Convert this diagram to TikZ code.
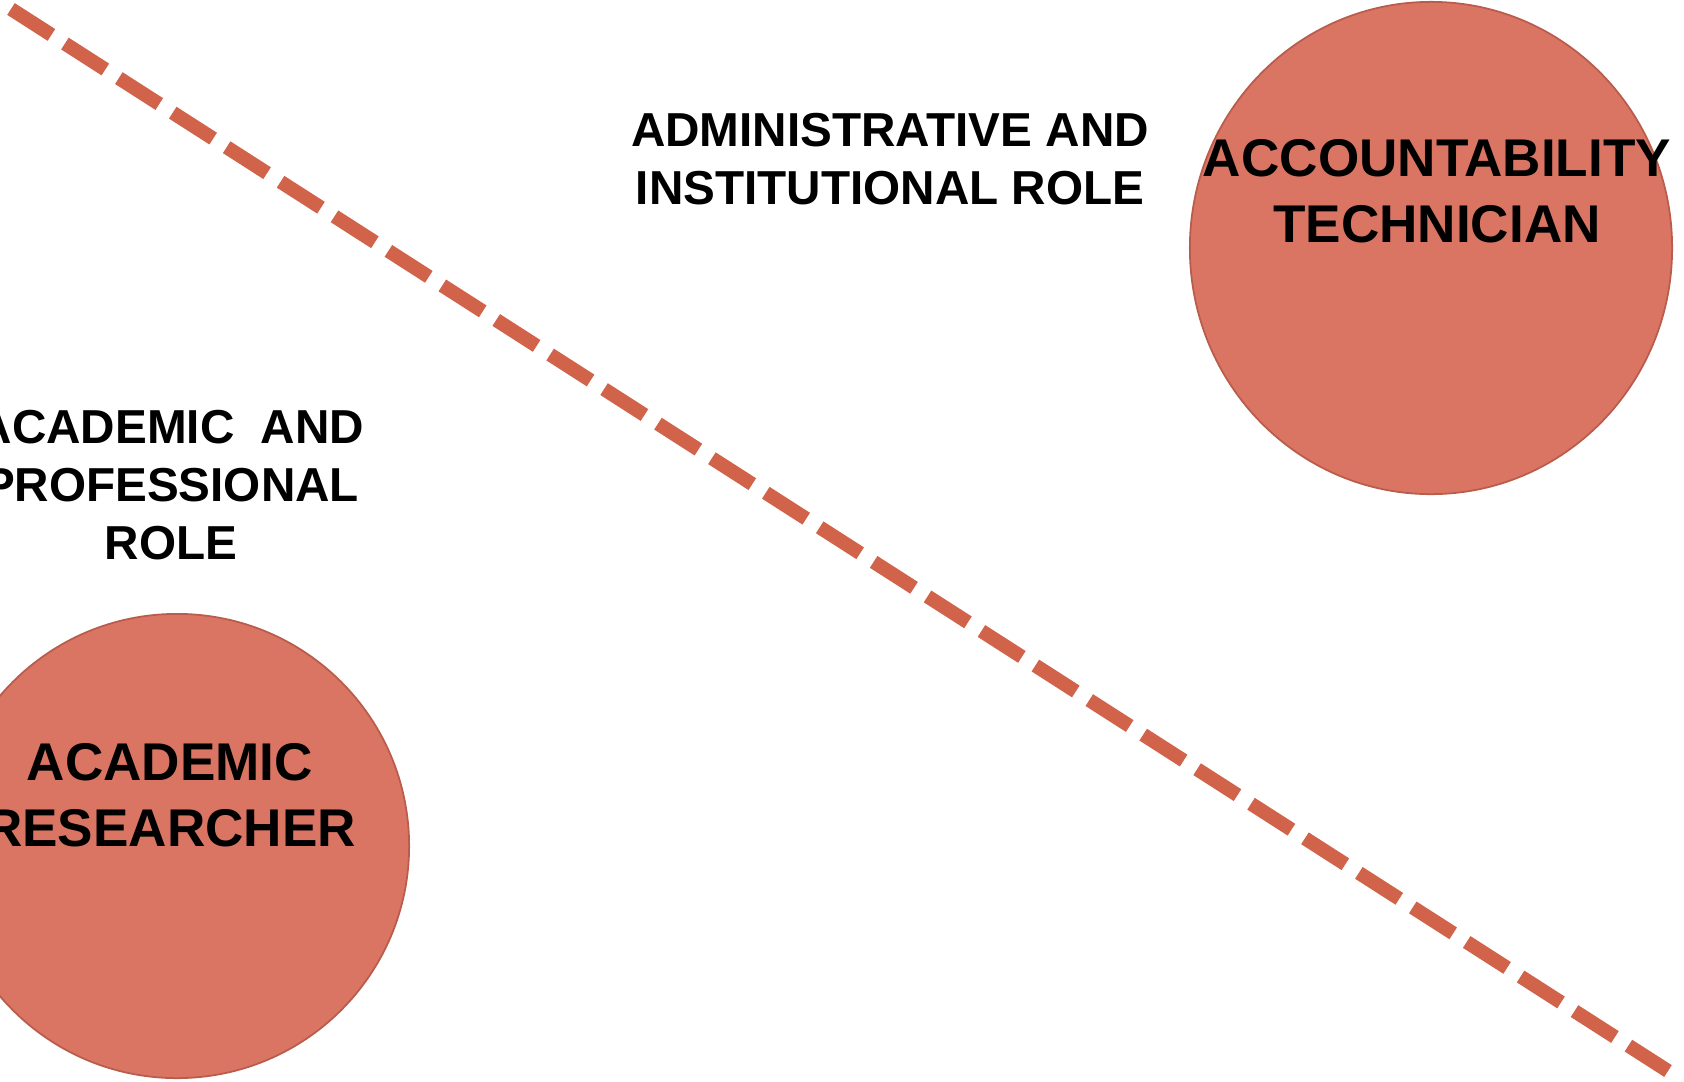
\documentclass[tikz,border=0pt]{standalone}
\usepackage{fontspec}
\setmainfont{Liberation Sans}
\usetikzlibrary{shapes.geometric}
\definecolor{rolefill}{RGB}{219,117,99}
\definecolor{roleedge}{RGB}{185,92,76}
\definecolor{divide}{RGB}{209,99,74}

\begin{document}
\begin{tikzpicture}[
  x=0.01cm, y=-0.01cm,
  role/.style={ellipse, draw=roleedge, line width=0.5pt, fill=rolefill,
               inner sep=0pt},
  rtext/.style={align=center, inner sep=0pt,
                font=\fontsize{15.1}{18.8}\selectfont\bfseries},
  area/.style={align=center, inner sep=0pt,
               font=\fontsize{13.55}{16.4}\selectfont\bfseries},
  split/.style={draw=divide, line width=3.98pt,
                dash pattern=on 0.48cm off 0.16cm},
]
\useasboundingbox (0,0) rectangle (1684,1081);
\clip (0,0) rectangle (1684,1081);

% the two roles
\node[role, minimum width=4.82cm, minimum height=4.92cm] (tech) at (1431,248) {};
\node[role, minimum width=4.64cm, minimum height=4.64cm] (res)  at (177,846)  {};
\node[rtext] (techtxt) at (1437,191) {ACCOUNTABILITY\\TECHNICIAN};
\node[rtext] (restxt)  at (170,795)  {ACADEMIC\\RESEARCHER};

% the two areas
\node[area] (admin) at (890,159) {ADMINISTRATIVE AND\\INSTITUTIONAL ROLE};
\node[area] (acad)  at (171,485) {ACADEMIC~~AND\\PROFESSIONAL\\ROLE};

% dividing line
\coordinate (nw) at (11,9);
\coordinate (se) at (1668,1071);
\draw[split] (nw) -- (se);
\end{tikzpicture}
\end{document}
